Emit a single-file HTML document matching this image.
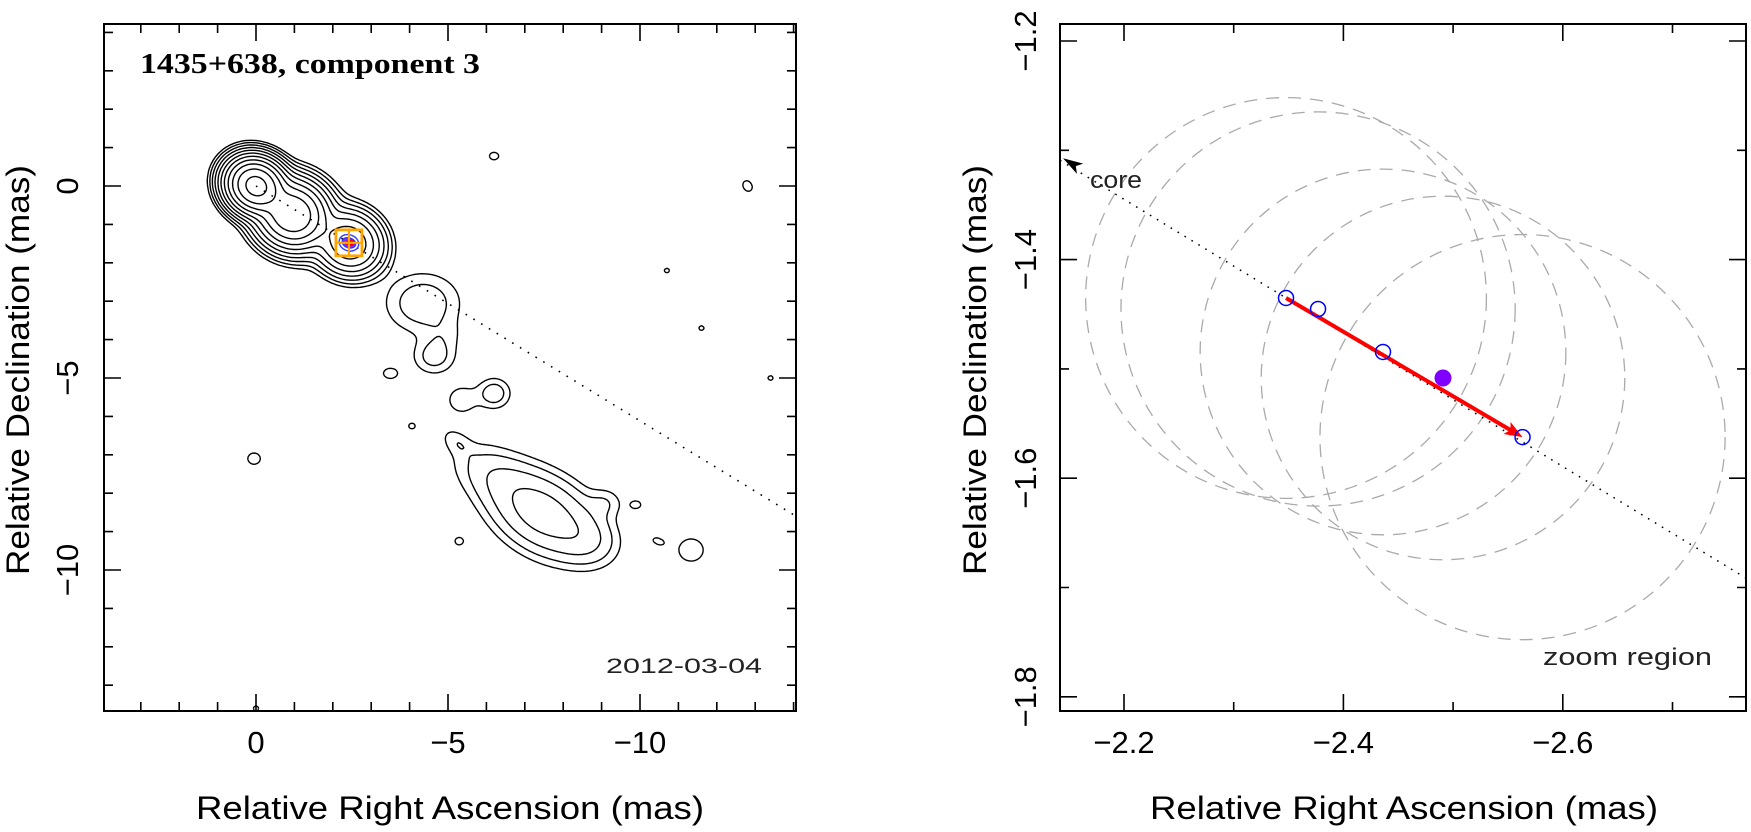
<!DOCTYPE html>
<html><head><meta charset="utf-8"><style>
html,body{margin:0;padding:0;background:#fff;}
svg{display:block;font-family:"Liberation Sans",sans-serif;}
</style></head><body>
<svg id="fig" width="1751" height="832" viewBox="0 0 1751 832" xmlns="http://www.w3.org/2000/svg">
<rect x="0" y="0" width="1751" height="832" fill="#fff"/>
<g id="left"></g>
<g id="right"></g>
</svg>
<script>
// ---------- Left panel data (mas) ----------
const contourLevels = [1,2,4,8,16,32,64,128,256,512,1024];
const compRA   = [0, -0.94, -2.42, -1.2, -4.35, -4.64, -4.9, -3.5, -5.36, -6.2, -4.06, -5.23, -6.3, -7.5, -8.6, -9.1, -9.9, -10.47, -11.33, -5.29, 0.05, -6.2, -12.8, -10.7, -11.6, -13.4, 0.0];
const compDec  = [0, -0.73, -1.48, -0.8, -3.05, -4.45, -3.9, -4.88, -5.57, -5.4, -6.25, -6.67, -7.6, -8.55, -9.2, -8.25, -8.3, -9.25, -9.48, -9.25, -7.1, 0.78, 0.0, -2.2, -3.7, -5.0, -13.6];
const compAmp  = [1400, 500, 120, 3, 3.2, 2.6, 1.0, 1.4, 1.7, 3.0, 1.3, 1.4, 3, 11, 3, 1.6, 1.3, 1.3, 1.5, 1.3, 1.4, 1.4, 1.4, 1.2, 1.2, 1.2, 1.2];
const compSMaj = [0.34, 0.42, 0.40, 1.0, 0.62, 0.36, 0.35, 0.22, 0.3, 0.28, 0.12, 0.3, 0.8, 0.85, 0.5, 0.3, 0.16, 0.18, 0.35, 0.15, 0.2, 0.15, 0.18, 0.12, 0.12, 0.12, 0.12];
const compSMin = [0.30, 0.38, 0.36, 0.6, 0.5, 0.3, 0.3, 0.16, 0.28, 0.26, 0.1, 0.18, 0.45, 0.55, 0.4, 0.25, 0.12, 0.1, 0.32, 0.13, 0.18, 0.12, 0.14, 0.1, 0.1, 0.1, 0.1];
const compPA   = [30, 30, 30, 30, 0, 0, 0, 0, 0, 0, 0, 40, 30, 30, 20, 0, 0, 20, 0, 0, 0, 0, 60, 0, 0, 0, 0];
const leftXTicksMajor = [0, -5, -10];
const leftYTicksMajor = [0, -5, -10];
const leftXTickLabels = ["0", "\u22125", "\u221210"];
const leftYTickLabels = ["0", "\u22125", "\u221210"];
const comp3Pos = [-2.42, -1.48];

// ---------- Right panel data (mas) ----------
const ptRA  = [-2.3477, -2.3769, -2.4361, -2.5633];
const ptDec = [-1.4351, -1.4452, -1.4845, -1.5624];
const meanRA = -2.4908, meanDec = -1.5083;
const circRA  = [-2.3477, -2.3769, -2.4361, -2.4908, -2.5633];
const circDec = [-1.4351, -1.4452, -1.4845, -1.5083, -1.5624];
const circR   = [0.183, 0.180, 0.167, 0.166, 0.185];
const rightXTicksMajor = [-2.2, -2.4, -2.6];
const rightXTicksMinor = [-2.3, -2.5, -2.7];
const rightYTicksMajor = [-1.2, -1.4, -1.6, -1.8];
const rightYTicksMinor = [-1.3, -1.5, -1.7];
const rightXTickLabels = ["\u22122.2", "\u22122.4", "\u22122.6"];
const rightYTickLabels = ["\u22121.2", "\u22121.4", "\u22121.6", "\u22121.8"];

const NS = "http://www.w3.org/2000/svg";
function mk(parent, tag, attrs){ const e=document.createElementNS(NS,tag); for(const k in attrs) e.setAttribute(k,attrs[k]); parent.appendChild(e); return e; }

// ---------- Left panel ----------
const L = document.getElementById('left');
const LX0=104, LX1=796, LY0=24, LY1=711;
function lx(ra){ return 256 - 38.4*ra; }
function ly(dec){ return 186 - 38.4*dec; }

function field(ra, dec){
  let s=0;
  for(let k=0;k<compRA.length;k++){
    const dx=ra-compRA[k], dy=dec-compDec[k];
    const t=compPA[k]*Math.PI/180, c=Math.cos(t), sn=Math.sin(t);
    const u=dx*c+dy*sn, v=-dx*sn+dy*c;
    s += compAmp[k]*Math.exp(-(u*u/(2*compSMaj[k]*compSMaj[k]) + v*v/(2*compSMin[k]*compSMin[k])));
  }
  return s;
}
(function contours(){
  const step=2;
  const nx=Math.floor((LX1-LX0)/step)+1, ny=Math.floor((LY1-LY0)/step)+1;
  const f=new Float64Array(nx*ny);
  for(let j=0;j<ny;j++) for(let i=0;i<nx;i++){
    const px=LX0+i*step, py=LY0+j*step;
    f[j*nx+i]=field((256-px)/38.4,(186-py)/38.4);
  }
  const g=mk(L,'g',{});
  
  
  for(const lev of contourLevels){
    let d=[];
    for(let j=0;j<ny-1;j++) for(let i=0;i<nx-1;i++){
      const a=f[j*nx+i], b=f[j*nx+i+1], c=f[(j+1)*nx+i+1], e=f[(j+1)*nx+i];
      const idx=(a>lev?8:0)|(b>lev?4:0)|(c>lev?2:0)|(e>lev?1:0);
      if(idx===0||idx===15) continue;
      const x=LX0+i*step, y=LY0+j*step;
      const T=[x+step*(lev-a)/(b-a), y];
      const R=[x+step, y+step*(lev-b)/(c-b)];
      const B=[x+step*(lev-e)/(c-e), y+step];
      const Lf=[x, y+step*(lev-a)/(e-a)];
      const seg=(p,q)=>d.push('M'+p[0].toFixed(1)+' '+p[1].toFixed(1)+'L'+q[0].toFixed(1)+' '+q[1].toFixed(1));
      switch(idx){
        case 1: case 14: seg(Lf,B); break;
        case 2: case 13: seg(B,R); break;
        case 3: case 12: seg(Lf,R); break;
        case 4: case 11: seg(T,R); break;
        case 5: seg(Lf,T); seg(B,R); break;
        case 6: case 9: seg(T,B); break;
        case 7: case 8: seg(Lf,T); break;
        case 10: seg(T,R); seg(Lf,B); break;
      }
    }
    const p=mk(g,'path',{d:d.join(''),fill:'none',stroke:'#000','stroke-width':1.4});
    
    
  }
})();

// jet direction dotted line
(function(){
  const slope=comp3Pos[1]/comp3Pos[0];
  const raEnd=(256-LX1)/38.4;
  const ln=mk(L,'line',{x1:lx(0),y1:ly(0),x2:lx(raEnd),y2:ly(raEnd*slope),stroke:'#000','stroke-width':1.6,'stroke-dasharray':'1.6 7.5'});
  
  
})();

// component 3 marker
(function(){
  const cx=lx(comp3Pos[0]), cy=ly(comp3Pos[1]);
  const g=mk(L,'g',{});
  
  
  mk(g,'ellipse',{cx:cx,cy:cy,rx:10,ry:8,fill:'none',stroke:'#3344ff','stroke-width':1.4,transform:`rotate(20 ${cx} ${cy})`});
  mk(g,'ellipse',{cx:cx,cy:cy,rx:7,ry:5,fill:'#7f30ff',stroke:'#2233ff','stroke-width':1.2,transform:`rotate(20 ${cx} ${cy})`});
  mk(g,'ellipse',{cx:cx+1,cy:cy,rx:4.5,ry:3.5,fill:'#ff0000'});
  mk(g,'rect',{x:cx-13,y:cy-13,width:26,height:26,fill:'none',stroke:'#ffa500','stroke-width':2.8});
  mk(g,'line',{x1:cx,y1:cy-13,x2:cx,y2:cy+13,stroke:'#ffa500','stroke-width':2.2});
  mk(g,'line',{x1:cx-13,y1:cy,x2:cx+13,y2:cy,stroke:'#ffa500','stroke-width':2.2});
})();

// frame & ticks
(function(){
  const f=mk(L,'rect',{x:LX0,y:LY0,width:LX1-LX0,height:LY1-LY0,fill:'none',stroke:'#000','stroke-width':2});
  
  
  let d='';
  for(let v=-14; v<=3; v++){
    const len=leftXTicksMajor.includes(v)?17:9, x=lx(v);
    d+=`M${x} ${LY1}V${LY1-len}M${x} ${LY0}V${LY0+len}`;
  }
  for(let v=-13; v<=4; v++){
    const len=leftYTicksMajor.includes(v)?17:9, y=ly(v);
    d+=`M${LX0} ${y}H${LX0+len}M${LX1} ${y}H${LX1-len}`;
  }
  const t=mk(L,'path',{d:d,stroke:'#000','stroke-width':1.6,fill:'none'});
  
  
  leftXTicksMajor.forEach((v,i)=>{
    const tx=mk(L,'text',{x:lx(v),y:753,'font-size':31,'text-anchor':'middle'});
    tx.textContent=leftXTickLabels[i];
    
    
  });
  leftYTicksMajor.forEach((v,i)=>{
    const y=ly(v);
    const tx=mk(L,'text',{x:78,y:y,'font-size':31,'text-anchor':'middle',transform:`rotate(-90 78 ${y})`});
    tx.textContent=leftYTickLabels[i];
    
    
  });
  const xt=mk(L,'text',{x:450,y:819,'font-size':32,'text-anchor':'middle',textLength:508,lengthAdjust:'spacingAndGlyphs'});
  xt.textContent='Relative Right Ascension (mas)';
  
  
  const yt=mk(L,'text',{x:29,y:370,'font-size':32,'text-anchor':'middle',textLength:410,lengthAdjust:'spacingAndGlyphs',transform:'rotate(-90 29 370)'});
  yt.textContent='Relative Declination (mas)';
  
  
  const ti=mk(L,'text',{x:140,y:73,'font-size':28,'font-family':'Liberation Serif, serif','font-weight':'bold',textLength:340,lengthAdjust:'spacingAndGlyphs'});
  ti.textContent='1435+638, component 3';
  
  
  const dt=mk(L,'text',{x:606,y:673,'font-size':21,fill:'#222',textLength:156,lengthAdjust:'spacingAndGlyphs'});
  dt.textContent='2012-03-04';
  
  
})();

// ---------- Right panel ----------
const Rg=document.getElementById('right');
const RX0=1060, RX1=1746, RY0=24, RY1=711;
function rx(ra){ return 1124 + (-ra-2.2)*1097; }
function ry(dec){ return 41 + (-1.2-dec)*1093; }
function rr(r){ return r*1095; }
(function(){
  const cp=mk(Rg,'clipPath',{id:'rclip'});
  mk(cp,'rect',{x:RX0,y:RY0,width:RX1-RX0,height:RY1-RY0});
  const g=mk(Rg,'g',{'clip-path':'url(#rclip)'});
  circRA.forEach((v,i)=>{
    const c=mk(g,'circle',{cx:rx(v),cy:ry(circDec[i]),r:rr(circR[i]),fill:'none',stroke:'#aaaaaa','stroke-width':1.3,'stroke-dasharray':'13 9'});
    
    
  });
  const slope=ptDec[0]/ptRA[0];
  const raL=-(2.2+(RX0-1124)/1097), raR=-(2.2+(RX1-1124)/1097);
  const ln=mk(g,'line',{x1:rx(raL),y1:ry(raL*slope),x2:rx(raR),y2:ry(raR*slope),stroke:'#000','stroke-width':1.5,'stroke-dasharray':'1.6 6.5'});
  
  
  const ax=rx(raL)+3, ay=ry(raL*slope)-2;
  const ang=Math.atan(slope*1093/1097);
  const ar=mk(g,'path',{d:'M0 0L20 -6L15 0L20 6Z',fill:'#000',transform:`translate(${ax} ${ay}) rotate(${ang*180/Math.PI})`});
  
  
  const x1=rx(ptRA[0]),y1=ry(ptDec[0]),x2=rx(ptRA[3]),y2=ry(ptDec[3]);
  const a2=Math.atan2(y2-y1,x2-x1)*180/Math.PI;
  const rl=mk(g,'line',{x1:x1,y1:y1,x2:x2-6,y2:y2-3.5,stroke:'#ff0000','stroke-width':4});
  
  
  const rh=mk(g,'path',{d:'M0 0L-18 -7L-14 0L-18 7Z',fill:'#ff0000',transform:`translate(${x2} ${y2}) rotate(${a2})`});
  
  
  ptRA.forEach((v,i)=>{
    const c=mk(g,'circle',{cx:rx(v),cy:ry(ptDec[i]),r:7.5,fill:'none',stroke:'#0000ff','stroke-width':1.5});
    
    
  });
  const m=mk(g,'circle',{cx:rx(meanRA),cy:ry(meanDec),r:8.5,fill:'#7f00ff'});
  
  

  const f=mk(Rg,'rect',{x:RX0,y:RY0,width:RX1-RX0,height:RY1-RY0,fill:'none',stroke:'#000','stroke-width':2});
  
  
  let d='';
  rightXTicksMajor.concat(rightXTicksMinor).forEach(v=>{
    const len=rightXTicksMajor.includes(v)?17:9, x=rx(v);
    d+=`M${x} ${RY1}V${RY1-len}M${x} ${RY0}V${RY0+len}`;
  });
  rightYTicksMajor.concat(rightYTicksMinor).forEach(v=>{
    const len=rightYTicksMajor.includes(v)?17:9, y=ry(v);
    d+=`M${RX0} ${y}H${RX0+len}M${RX1} ${y}H${RX1-len}`;
  });
  const t=mk(Rg,'path',{d:d,stroke:'#000','stroke-width':1.6,fill:'none'});
  
  
  rightXTicksMajor.forEach((v,i)=>{
    const tx=mk(Rg,'text',{x:rx(v),y:753,'font-size':31,'text-anchor':'middle'});
    tx.textContent=rightXTickLabels[i];
    
    
  });
  rightYTicksMajor.forEach((v,i)=>{
    const y=ry(v);
    const tx=mk(Rg,'text',{x:1036,y:y,'font-size':31,'text-anchor':'middle',transform:`rotate(-90 1036 ${y})`});
    tx.textContent=rightYTickLabels[i];
    
    
  });
  const xt=mk(Rg,'text',{x:1404,y:819,'font-size':32,'text-anchor':'middle',textLength:508,lengthAdjust:'spacingAndGlyphs'});
  xt.textContent='Relative Right Ascension (mas)';
  
  
  const yt=mk(Rg,'text',{x:986,y:370,'font-size':32,'text-anchor':'middle',textLength:410,lengthAdjust:'spacingAndGlyphs',transform:'rotate(-90 986 370)'});
  yt.textContent='Relative Declination (mas)';
  
  
  const co=mk(Rg,'text',{x:1090,y:188,'font-size':24,fill:'#222',textLength:52,lengthAdjust:'spacingAndGlyphs'});
  co.textContent='core';
  
  
  const zr=mk(Rg,'text',{x:1543,y:665,'font-size':24,fill:'#222',textLength:169,lengthAdjust:'spacingAndGlyphs'});
  zr.textContent='zoom region';
  
  
})();
</script>
</body></html>
